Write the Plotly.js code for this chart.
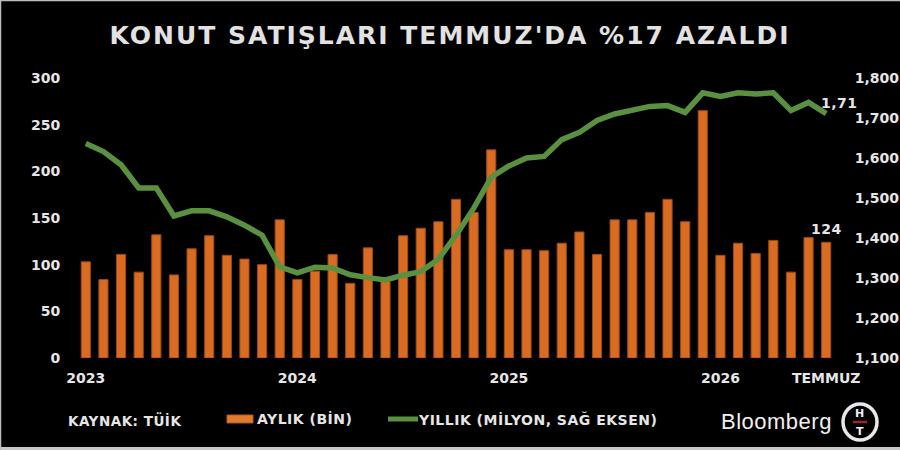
<!DOCTYPE html>
<html>
<head>
<meta charset="utf-8">
<script src="https://cdn.plot.ly/plotly-3.0.1.min.js"></script>
<style>
  html, body { margin: 0; padding: 0; background: #000; }
  #chart { width: 900px; height: 450px; }
  .gtitle { letter-spacing: 2px; }
  .annotation-text { letter-spacing: 0.5px; }
</style>
</head>
<body>
<div id="chart"></div>
<script>
// ---- data ----
const months = [
  "2023-01","2023-02","2023-03","2023-04","2023-05","2023-06","2023-07","2023-08","2023-09","2023-10","2023-11","2023-12",
  "2024-01","2024-02","2024-03","2024-04","2024-05","2024-06","2024-07","2024-08","2024-09","2024-10","2024-11","2024-12",
  "2025-01","2025-02","2025-03","2025-04","2025-05","2025-06","2025-07","2025-08","2025-09","2025-10","2025-11","2025-12",
  "2026-01","2026-02","2026-03","2026-04","2026-05","2026-06","2026-07"
];
// monthly sales (thousand units, left axis)
const monthlySales = [
  103, 84, 111, 92, 132, 89, 117, 131, 110, 106, 100, 148,
  84, 93, 111, 80, 118, 82, 131, 139, 146, 170, 156, 223,
  116, 116, 115, 123, 135, 111, 148, 148, 156, 170, 146, 265,
  110, 123, 112, 126, 92, 129, 124
];
// 12-month rolling sales (right axis)
const annualSales = [
  1636, 1616, 1583, 1525, 1525, 1455, 1468, 1468, 1453, 1432, 1407, 1328,
  1313, 1327, 1325, 1308, 1301, 1295, 1307, 1316, 1347, 1407, 1474, 1552,
  1580, 1600, 1604, 1646, 1664, 1694, 1710, 1721, 1729, 1731, 1714, 1763,
  1754, 1763, 1760, 1763, 1719, 1739, 1711
];
const xTickVals = ["2023-01", "2024-01", "2025-01", "2026-01", "2026-07"];
const xTickText = ["2023", "2024", "2025", "2026", "TEMMUZ"];
const leftTicks = [0, 50, 100, 150, 200, 250, 300];
const rightTicks = [1100, 1200, 1300, 1400, 1500, 1600, 1700, 1800];

const titleText = "KONUT SATIŞLARI TEMMUZ'DA %17 AZALDI";
const monthlyName = "AYLIK (BİN)";
const annualName = "YILLIK (MİLYON, SAĞ EKSEN)";
const sourceText = "KAYNAK: TÜİK";
const lastAnnualLabel = "1,71";
const lastMonthlyLabel = "124";

// ---- layout helpers (pixel -> paper) ----
const L = 77, R = 835, T = 78, B = 358;
const W = R - L, H = B - T;
const PX = x => (x - L) / W;
const PY = y => (B - y) / H;

const FONT = "DejaVu Sans, Arial, sans-serif";
const TXT = "#e6e6e6";
const ORANGE = "#d96c22";
const GREEN = "#5a9140";

const traces = [
  {
    type: "bar",
    x: months,
    y: monthlySales,
    name: monthlyName,
    marker: { color: ORANGE, line: { color: "#9c4a12", width: 1 } },
    yaxis: "y",
    hoverinfo: "skip"
  },
  {
    type: "scatter",
    mode: "lines",
    x: months,
    y: annualSales,
    name: annualName,
    line: { color: GREEN, width: 5.5 },
    yaxis: "y2",
    hoverinfo: "skip"
  }
];

const layout = {
  width: 900,
  height: 450,
  paper_bgcolor: "#000",
  plot_bgcolor: "#000",
  margin: { l: L, r: 900 - R, t: T, b: 450 - B, pad: 0 },
  showlegend: false,
  bargap: 0.48,
  title: {
    text: "<b>" + titleText + "</b>",
    font: { family: FONT, size: 25, color: "#e2e2e2" },
    x: 0.5, xref: "container", xanchor: "center",
    y: 1 - 35 / 450, yref: "container", yanchor: "middle"
  },
  xaxis: {
    type: "category",
    categoryorder: "array",
    categoryarray: months,
    range: [-0.5, months.length - 0.5],
    tickmode: "array",
    tickvals: xTickVals,
    ticktext: xTickText.map(t => "<b>" + t + "</b>"),
    tickfont: { family: FONT, size: 14, color: TXT },
    ticks: "outside", ticklen: 7, tickcolor: "rgba(0,0,0,0)",
    showgrid: false, zeroline: false, showline: false
  },
  yaxis: {
    range: [0, 300],
    tickmode: "array",
    tickvals: leftTicks,
    ticktext: leftTicks.map(v => "<b>" + v + "</b>"),
    tickfont: { family: FONT, size: 14, color: TXT },
    ticks: "outside", ticklen: 13, tickcolor: "rgba(0,0,0,0)",
    showgrid: false, zeroline: false, showline: false
  },
  yaxis2: {
    overlaying: "y",
    side: "right",
    range: [1100, 1800],
    tickmode: "array",
    tickvals: rightTicks,
    ticktext: rightTicks.map(v => "<b>" + v.toLocaleString("en-US") + "</b>"),
    tickfont: { family: FONT, size: 14, color: TXT },
    ticks: "outside", ticklen: 16, tickcolor: "rgba(0,0,0,0)",
    showgrid: false, zeroline: false, showline: false
  },
  shapes: [
    // legend swatches
    { type: "rect", xref: "paper", yref: "paper",
      x0: PX(227), x1: PX(253), y0: PY(423), y1: PY(415),
      fillcolor: "#e07a30", line: { color: "#b85a1a", width: 1 } },
    { type: "line", xref: "paper", yref: "paper",
      x0: PX(388), x1: PX(418), y0: PY(419), y1: PY(419),
      line: { color: GREEN, width: 5 } },
    // HT logo ring
    { type: "circle", xref: "paper", yref: "paper",
      x0: PX(843), x1: PX(877), y0: PY(440), y1: PY(404),
      fillcolor: "#000", line: { color: "#e8e8e8", width: 3.5 } },
    { type: "line", xref: "paper", yref: "paper",
      x0: PX(853), x1: PX(867), y0: PY(422), y1: PY(422),
      line: { color: "#a02424", width: 2.5 } },
    // thin grey frame edges
    { type: "line", xref: "paper", yref: "paper",
      x0: PX(0), x1: PX(900), y0: PY(0.5), y1: PY(0.5),
      line: { color: "#bdbdbd", width: 1.5 } },
    { type: "line", xref: "paper", yref: "paper",
      x0: PX(0), x1: PX(900), y0: PY(448.5), y1: PY(448.5),
      line: { color: "#c8c8c8", width: 3 } },
    { type: "line", xref: "paper", yref: "paper",
      x0: PX(0.5), x1: PX(0.5), y0: PY(0), y1: PY(450),
      line: { color: "#bdbdbd", width: 1.5 } }
  ],
  annotations: [
    { xref: "paper", yref: "paper", x: PX(66), y: PY(420),
      xanchor: "left", yanchor: "middle", showarrow: false,
      text: "<b>" + sourceText + "</b>",
      font: { family: FONT, size: 13.5, color: TXT } },
    { xref: "paper", yref: "paper", x: PX(255), y: PY(419),
      xanchor: "left", yanchor: "middle", showarrow: false,
      text: "<b>" + monthlyName + "</b>",
      font: { family: FONT, size: 14, color: TXT } },
    { xref: "paper", yref: "paper", x: PX(416), y: PY(419),
      xanchor: "left", yanchor: "middle", showarrow: false,
      text: "<b>" + annualName + "</b>",
      font: { family: FONT, size: 14, color: TXT } },
    { xref: "paper", yref: "paper", x: PX(776), y: PY(421),
      xanchor: "center", yanchor: "middle", showarrow: false,
      text: "Bloomberg",
      font: { family: "Liberation Sans, Arial, sans-serif", size: 22, color: "#f0f0f0" } },
    { xref: "paper", yref: "paper", x: PX(860), y: PY(413),
      xanchor: "center", yanchor: "middle", showarrow: false,
      text: "<b>H</b>",
      font: { family: FONT, size: 11, color: "#f0f0f0" } },
    { xref: "paper", yref: "paper", x: PX(860), y: PY(431),
      xanchor: "center", yanchor: "middle", showarrow: false,
      text: "<b>T</b>",
      font: { family: FONT, size: 11, color: "#f0f0f0" } },
    // end labels
    { xref: "x", yref: "y2", x: months[months.length - 1], y: annualSales[annualSales.length - 1],
      xanchor: "center", yanchor: "middle", xshift: 13, yshift: 11, showarrow: false,
      text: "<b>" + lastAnnualLabel + "</b>",
      font: { family: FONT, size: 14, color: TXT } },
    { xref: "x", yref: "y", x: months[months.length - 1], y: monthlySales[monthlySales.length - 1],
      xanchor: "center", yanchor: "bottom", xshift: 0, yshift: 3, showarrow: false,
      text: "<b>" + lastMonthlyLabel + "</b>",
      font: { family: FONT, size: 14, color: TXT } }
  ]
};

Plotly.newPlot("chart", traces, layout, { displayModeBar: false, staticPlot: true });
</script>
</body>
</html>
